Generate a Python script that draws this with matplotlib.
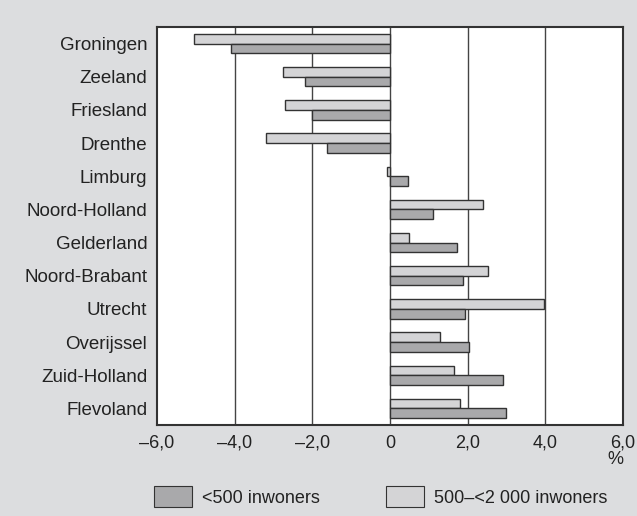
import numpy as np
import matplotlib.pyplot as plt
from matplotlib.patches import Patch

provinces = ['Groningen', 'Zeeland', 'Friesland', 'Drenthe', 'Limburg', 'Noord-Holland',
             'Gelderland', 'Noord-Brabant', 'Utrecht', 'Overijssel', 'Zuid-Holland', 'Flevoland']
small = [-4.09, -2.18, -2.0, -1.63, 0.46, 1.12, 1.73, 1.87, 1.93, 2.03, 2.91, 2.98]
medium = [-5.04, -2.75, -2.70, -3.19, -0.07, 2.39, 0.48, 2.53, 3.97, 1.30, 1.66, 1.80]
xticks = [-6, -4, -2, 0, 2, 4, 6]
xticklabels = ['\u20136,0', '\u20134,0', '\u20132,0', '0', '2,0', '4,0', '6,0']

plt.rcParams['font.family'] = ['Liberation Sans', 'DejaVu Sans']
plt.rcParams['text.color'] = '#222222'

bg = '#dcdddf'
c_dark = '#a9a9ab'
c_light = '#d4d4d6'
edge = '#333333'
fs = 13

fig = plt.figure(figsize=(6.37, 5.16), dpi=100, facecolor=bg)
ax = fig.add_axes([0.2465, 0.1764, 0.7315, 0.7713])

y = np.arange(len(provinces))
h = 0.29
ax.barh(y - h / 2, medium, height=h, color=c_light, edgecolor=edge, linewidth=1.0, zorder=3)
ax.barh(y + h / 2, small, height=h, color=c_dark, edgecolor=edge, linewidth=1.0, zorder=3)

ax.set_xlim(-6, 6)
ax.set_ylim(len(provinces) - 0.5, -0.5)
for xv in [-4, -2, 0, 2, 4]:
    ax.axvline(xv, color='#444444', linewidth=1.0, zorder=1)

ax.set_xticks(xticks)
ax.set_xticklabels(xticklabels, fontsize=fs, color='#222222')
ax.set_yticks(y)
ax.set_yticklabels(provinces, fontsize=13.5, color='#222222')
ax.tick_params(length=0, pad=7)
for s in ax.spines.values():
    s.set_color('#333333')
    s.set_linewidth(1.5)

fig.text(0.978, 0.109, '%', ha='right', va='center', fontsize=fs)

handles = [Patch(facecolor=c_dark, edgecolor=edge, linewidth=0.8),
           Patch(facecolor=c_light, edgecolor=edge, linewidth=0.8)]
fig.legend(handles, ['<500 inwoners', '500\u2013<2 000 inwoners'], ncol=2,
           loc='center left', bbox_to_anchor=(0.217, 0.037), frameon=False, fontsize=fs,
           handlelength=2.1, handleheight=1.4, columnspacing=3.65, handletextpad=0.55)

fig.savefig('out.png', dpi=100, facecolor=bg)
